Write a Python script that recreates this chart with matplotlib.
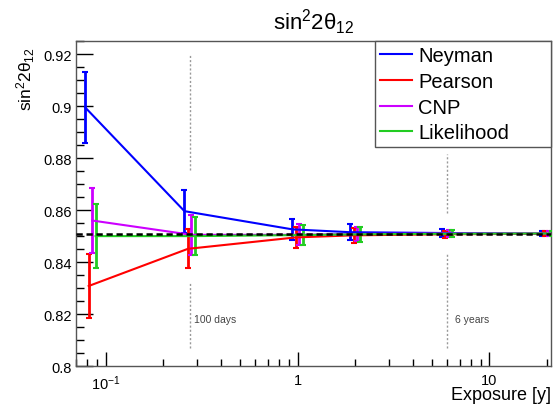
import numpy as np
import matplotlib.pyplot as plt
from matplotlib.lines import Line2D
from matplotlib.ticker import FixedLocator, FuncFormatter, MultipleLocator

plt.rcParams['font.family'] = ['Liberation Sans', 'DejaVu Sans']
plt.rcParams['mathtext.fontset'] = 'custom'
plt.rcParams['mathtext.rm'] = 'Liberation Sans'
plt.rcParams['mathtext.it'] = 'Liberation Sans'

# exposure points [y]: 1 month, 100 days, 1, 2, 6, 20 years
exposure = [1 / 12, 100 / 365, 1.0, 2.0, 6.0, 20.0]
true_value = 0.851

neyman = [0.8995, 0.8596, 0.8526, 0.8515, 0.8512, 0.8510]
neyman_err = [0.0138, 0.0083, 0.0041, 0.0031, 0.0014, 0.0010]
pearson = [0.8308, 0.8451, 0.8495, 0.8503, 0.8507, 0.8509]
pearson_err = [0.0122, 0.0075, 0.0040, 0.0028, 0.0014, 0.0010]
cnp = [0.8560, 0.8505, 0.8505, 0.8508, 0.8510, 0.8510]
cnp_err = [0.0126, 0.0076, 0.0040, 0.0028, 0.0013, 0.0010]
likelihood = [0.8500, 0.8500, 0.8504, 0.8507, 0.8509, 0.8510]
likelihood_err = [0.0122, 0.0073, 0.0040, 0.0028, 0.0013, 0.0010]

series = [
    ("Neyman", neyman, neyman_err, "#0000ff"),
    ("Pearson", pearson, pearson_err, "#ff0000"),
    ("CNP", cnp, cnp_err, "#cc00ff"),
    ("Likelihood", likelihood, likelihood_err, "#22cc22"),
]

fig = plt.figure(figsize=(5.54, 4.06), dpi=100)
ax = fig.add_axes([0.137, 0.096, 0.858, 0.8])

x = np.array(exposure)
shifts = [-1.5, -0.5, 0.5, 1.5]
handles = []
for (name, vals, errs, col), s in zip(series, shifts):
    xs = x * 10 ** (s * 0.018)
    ax.errorbar(xs, vals, yerr=errs, color=col, lw=1.5, elinewidth=2,
                capsize=2.5, capthick=1.5, zorder=3)
    handles.append(Line2D([], [], color=col, lw=1.5, label=name))

ax.plot([0.07, 21], [true_value, true_value], color='black', lw=1.8,
        ls=(0, (2.5, 1.5)), zorder=4)

# markers for 100 days and 6 years
for xv, segs in [(100 / 365, [(0.807, 0.8325), (0.8755, 0.92)]),
                 (6.0, [(0.807, 0.843), (0.859, 0.8815)])]:
    for lo, hi in segs:
        ax.plot([xv, xv], [lo, hi], color='#999999', lw=1, ls=(0, (1.5, 1.5)),
                zorder=1)
ax.text(0.29, 0.818, "100 days", fontsize=7.5, color='#444444', va='center')
ax.text(6.6, 0.818, "6 years", fontsize=7.5, color='#444444', va='center')

ax.set_xscale('log')
ax.set_xlim(0.07, 21)
ax.set_ylim(0.8, 0.925)

ax.xaxis.set_major_locator(FixedLocator([0.1, 1, 10]))
ax.xaxis.set_major_formatter(FuncFormatter(
    lambda v, p: {0.1: r'$10^{-1}$', 1: '1', 10: '10'}.get(round(v, 3), '')))
ax.xaxis.set_minor_locator(FixedLocator(
    [k * 10.0 ** e for e in (-2, -1, 0, 1) for k in range(2, 10)]))
ax.xaxis.set_minor_formatter(FuncFormatter(lambda v, p: ''))
ax.yaxis.set_major_locator(MultipleLocator(0.02))
ax.yaxis.set_minor_locator(MultipleLocator(0.005))
ax.yaxis.set_major_formatter(FuncFormatter(lambda v, p: f"{v:g}"))

ax.tick_params(which='both', direction='in', top=False, right=False,
               labelsize=10.5, width=1)
ax.tick_params(axis='y', which='major', length=12, pad=3)
ax.tick_params(axis='y', which='minor', length=6)
ax.tick_params(axis='x', which='major', length=10, pad=5)
ax.tick_params(axis='x', which='minor', length=5)
for sp in ax.spines.values():
    sp.set_color('#555555')
    sp.set_linewidth(1)

ax.set_title(r'sin$^2$2$\theta_{12}$', fontsize=16, pad=9)
ax.set_ylabel(r'sin$^2$2$\theta_{12}$', fontsize=12.5)
ax.yaxis.set_label_coords(-0.082, 0.985)
ax.yaxis.label.set_ha('right')
ax.yaxis.label.set_va('bottom')
ax.set_xlabel('Exposure [y]', fontsize=13)
ax.xaxis.set_label_coords(1.0, -0.062)
ax.xaxis.label.set_ha('right')
ax.xaxis.label.set_va('top')

leg = ax.legend(handles=handles, loc='upper left',
                bbox_to_anchor=(0.629, 0, 0.371, 1), mode='expand',
                borderaxespad=0, fancybox=False, edgecolor='#555555',
                framealpha=1, fontsize=14.5, handlelength=1.6,
                handletextpad=0.3, labelspacing=0.33, borderpad=0.25)
leg.get_frame().set_linewidth(1)

fig.savefig('out.png', dpi=100)
